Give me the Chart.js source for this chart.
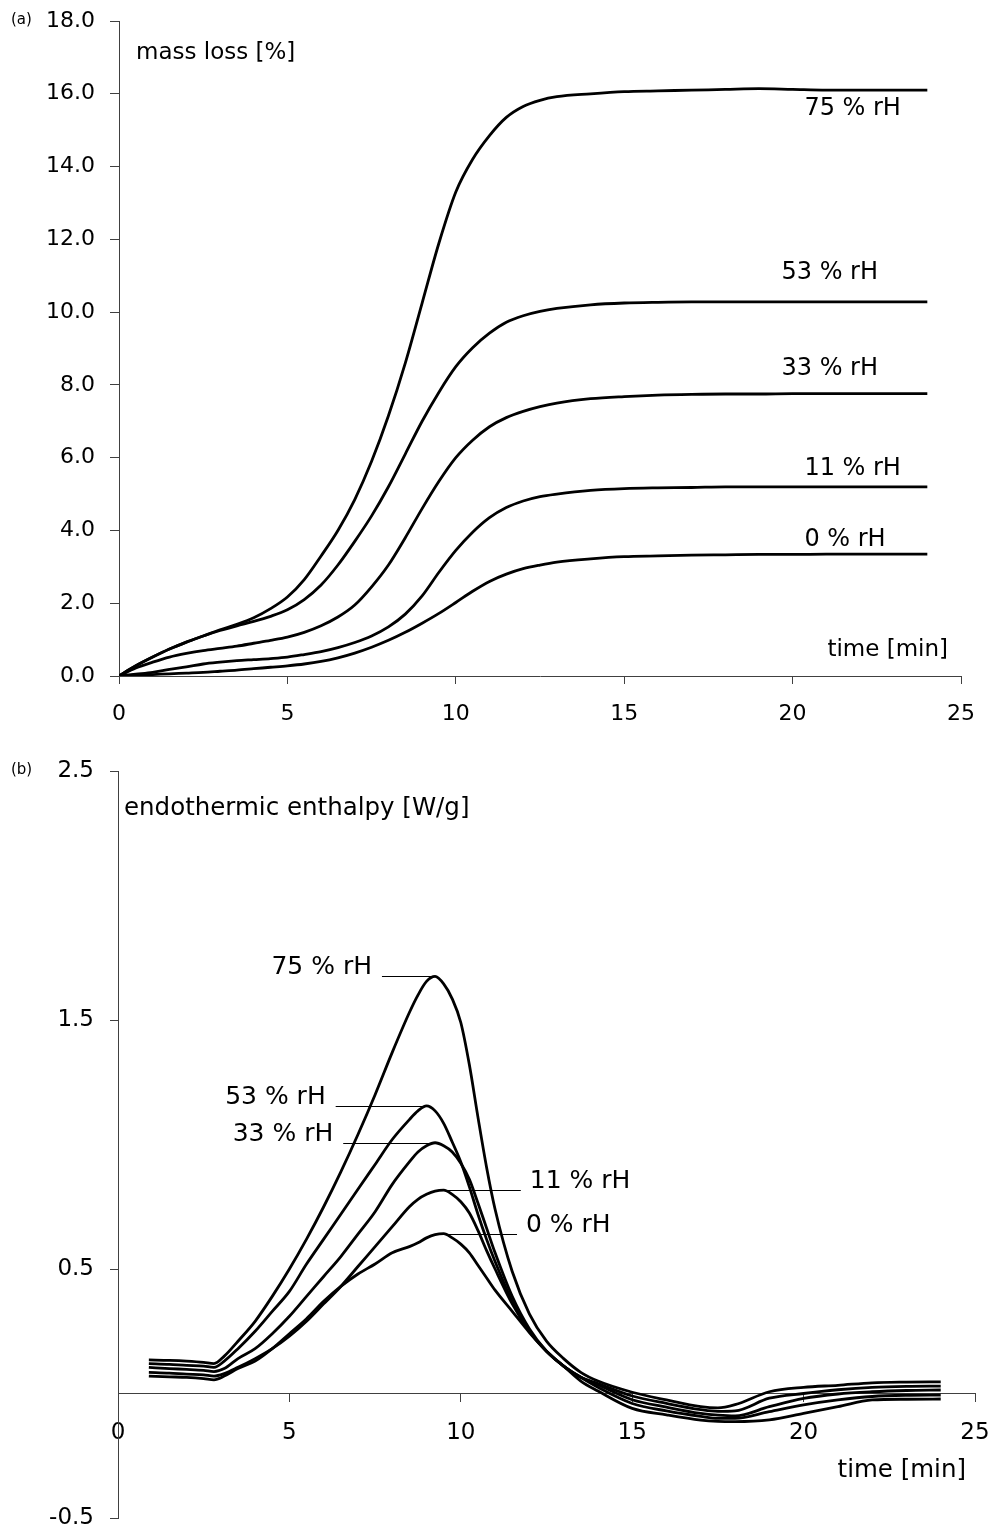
<!DOCTYPE html>
<html>
<head>
<meta charset="utf-8">
<script src="https://cdn.jsdelivr.net/npm/chart.js@4.4.0/dist/chart.umd.min.js"></script>
<style>
	html, body { margin: 0; padding: 0; background: #fff; }
	#wrap { position: relative; width: 997px; height: 1535px; }
	canvas { position: absolute; left: 0; }
</style>
</head>
<body>
<div id="wrap">
	<canvas id="massLoss" width="997" height="740" style="top:0;width:997px;height:740px"></canvas>
	<canvas id="enthalpy" width="997" height="795" style="top:740px;width:997px;height:795px"></canvas>
</div>
<script>
const series = ["75 % rH", "53 % rH", "33 % rH", "11 % rH", "0 % rH"];

// (a) mass loss [%] vs time [min]
const massTime = [0, 0.5, 1, 1.5, 2, 2.5, 3, 3.5, 4, 4.5, 5, 5.5, 6, 6.5, 7, 7.5, 8, 8.5, 9, 9.5, 10, 10.5, 11, 11.5, 12, 12.5, 13, 14, 15, 16, 17, 18, 19, 20, 21, 22, 23, 24];
const mass75 = [0, 0.28, 0.52, 0.74, 0.93, 1.1, 1.27, 1.42, 1.6, 1.85, 2.17, 2.65, 3.3, 4.0, 4.85, 5.9, 7.15, 8.6, 10.25, 11.9, 13.3, 14.2, 14.85, 15.35, 15.65, 15.82, 15.92, 16.0, 16.06, 16.08, 16.1, 16.12, 16.14, 16.12, 16.1, 16.1, 16.1, 16.1];
const mass53 = [0, 0.28, 0.52, 0.74, 0.93, 1.1, 1.25, 1.38, 1.5, 1.64, 1.82, 2.1, 2.5, 3.05, 3.7, 4.4, 5.2, 6.1, 7.0, 7.8, 8.5, 9.02, 9.42, 9.72, 9.9, 10.02, 10.1, 10.2, 10.25, 10.27, 10.28, 10.28, 10.28, 10.28, 10.28, 10.28, 10.28, 10.28];
const mass33 = [0, 0.22, 0.38, 0.52, 0.62, 0.7, 0.76, 0.82, 0.9, 0.98, 1.07, 1.2, 1.38, 1.62, 1.95, 2.45, 3.05, 3.8, 4.6, 5.35, 6.0, 6.48, 6.85, 7.1, 7.27, 7.4, 7.5, 7.62, 7.68, 7.72, 7.74, 7.75, 7.75, 7.76, 7.76, 7.76, 7.76, 7.76];
const mass11 = [0, 0.05, 0.1, 0.18, 0.25, 0.33, 0.38, 0.42, 0.45, 0.48, 0.52, 0.59, 0.67, 0.78, 0.92, 1.1, 1.35, 1.7, 2.2, 2.85, 3.45, 3.95, 4.35, 4.63, 4.81, 4.93, 5.0, 5.1, 5.15, 5.17, 5.18, 5.2, 5.2, 5.2, 5.2, 5.2, 5.2, 5.2];
const mass0 = [0, 0.02, 0.04, 0.06, 0.08, 0.1, 0.13, 0.16, 0.2, 0.24, 0.28, 0.33, 0.4, 0.5, 0.63, 0.79, 0.98, 1.2, 1.45, 1.72, 2.02, 2.33, 2.6, 2.8, 2.95, 3.05, 3.13, 3.22, 3.28, 3.3, 3.32, 3.33, 3.34, 3.34, 3.35, 3.35, 3.35, 3.35];
const massTicksY = { min: 0, max: 18, step: 2 };

// (b) endothermic enthalpy [W/g] vs time [min]
const heatTime = [0.9, 1.5, 2, 2.5, 2.8, 3.1, 3.5, 4, 4.5, 5, 5.5, 6, 6.5, 7, 7.5, 8, 8.5, 8.75, 9, 9.25, 9.5, 9.75, 10, 10.25, 10.5, 10.75, 11, 11.5, 12, 12.5, 13, 13.5, 14, 15, 16, 17, 17.5, 18, 19, 20, 21, 22, 23, 24];
const heat75 = [0.135, 0.133, 0.13, 0.125, 0.12, 0.15, 0.21, 0.29, 0.39, 0.5, 0.62, 0.75, 0.89, 1.04, 1.2, 1.37, 1.53, 1.6, 1.655, 1.675, 1.645, 1.585, 1.49, 1.32, 1.11, 0.91, 0.74, 0.49, 0.32, 0.21, 0.14, 0.085, 0.05, 0.005, -0.026, -0.053, -0.058, -0.045, 0.007, 0.025, 0.033, 0.043, 0.046, 0.047];
const heat53 = [0.12, 0.117, 0.113, 0.11, 0.105, 0.13, 0.18, 0.25, 0.33, 0.41, 0.52, 0.62, 0.72, 0.82, 0.92, 1.02, 1.1, 1.135, 1.155, 1.135, 1.085, 1.01, 0.93, 0.83, 0.72, 0.62, 0.53, 0.37, 0.25, 0.17, 0.11, 0.065, 0.04, -0.01, -0.04, -0.065, -0.072, -0.07, -0.019, 0.0, 0.015, 0.025, 0.029, 0.03];
const heat33 = [0.105, 0.1, 0.097, 0.093, 0.088, 0.1, 0.14, 0.18, 0.24, 0.31, 0.39, 0.47, 0.55, 0.64, 0.73, 0.84, 0.93, 0.97, 0.995, 1.007, 0.995, 0.97, 0.925, 0.86, 0.765, 0.665, 0.565, 0.39, 0.26, 0.17, 0.11, 0.065, 0.035, -0.025, -0.055, -0.08, -0.087, -0.09, -0.053, -0.02, -0.002, 0.007, 0.012, 0.014];
const heat11 = [0.085, 0.082, 0.078, 0.075, 0.07, 0.08, 0.105, 0.14, 0.18, 0.23, 0.29, 0.36, 0.43, 0.51, 0.59, 0.67, 0.75, 0.78, 0.8, 0.813, 0.817, 0.8, 0.77, 0.725, 0.655, 0.575, 0.5, 0.36, 0.25, 0.17, 0.11, 0.065, 0.025, -0.04, -0.07, -0.092, -0.1, -0.1, -0.073, -0.046, -0.026, -0.012, -0.007, -0.006];
const heat0 = [0.07, 0.067, 0.065, 0.06, 0.055, 0.07, 0.1, 0.13, 0.18, 0.24, 0.3, 0.37, 0.43, 0.48, 0.52, 0.565, 0.59, 0.605, 0.625, 0.638, 0.642, 0.625, 0.6, 0.565, 0.515, 0.465, 0.415, 0.33, 0.245, 0.17, 0.11, 0.05, 0.01, -0.06, -0.086, -0.107, -0.112, -0.113, -0.106, -0.08, -0.053, -0.026, -0.023, -0.022];
const heatTicksY = { min: -0.5, max: 2.5, step: 1 };

const timeTicks = { min: 0, max: 25, step: 5 };

// where the rH labels sit, in data units
const massLabelAt = [[20.35, 15.42], [19.67, 10.91], [19.67, 8.27], [20.35, 5.52], [20.35, 3.57]];
// leader lines in (b): time at the far end of each line
const heatLeaderEnd = [7.7, 6.35, 6.57, 11.75, 11.64];

const FONT = "DejaVu Sans";
const AXIS = "#404040";

const toDatasets = (time, columns) =>
	columns.map((col, i) => ({
		label: series[i],
		data: time.map((t, j) => ({ x: t, y: col[j] })),
	}));

// labels may spill past the plot edges, like in the paper figure
const noPadding = s => {
	s.paddingLeft = s.paddingRight = s.paddingTop = s.paddingBottom = 0;
};

const baseOptions = ({ padding, tickFont, xPadding, yPadding, yTickLen, yWidth, xHeight, xPosition, yTicks }) => ({
	responsive: false,
	animation: false,
	events: [],
	layout: { padding },
	plugins: { legend: { display: false }, tooltip: { enabled: false } },
	elements: {
		point: { radius: 0 },
		line: { borderColor: "#000", borderWidth: 2.8, cubicInterpolationMode: "monotone", fill: false },
	},
	scales: {
		x: {
			type: "linear",
			position: xPosition,
			min: timeTicks.min,
			max: timeTicks.max,
			grid: { drawOnChartArea: false, drawTicks: true, tickLength: 8, tickColor: AXIS, color: AXIS },
			border: { color: AXIS, width: 1 },
			ticks: {
				stepSize: timeTicks.step,
				autoSkip: false,
				maxRotation: 0,
				padding: xPadding,
				color: "#000",
				font: { family: FONT, size: tickFont },
				callback: v => String(v),
			},
			afterFit: s => {
				noPadding(s);
				if (xHeight) s.height = xHeight;
			},
		},
		y: {
			type: "linear",
			min: yTicks.min,
			max: yTicks.max,
			grid: { drawOnChartArea: false, drawTicks: true, tickLength: yTickLen, tickColor: AXIS, color: AXIS },
			border: { color: AXIS, width: 1 },
			ticks: {
				stepSize: yTicks.step,
				autoSkip: false,
				padding: yPadding,
				color: "#000",
				font: { family: FONT, size: tickFont },
				callback: v => Number(v).toFixed(1),
			},
			afterFit: s => {
				noPadding(s);
				s.width = yWidth;
			},
		},
	},
});

const textLayer = draw => ({
	id: "textLayer",
	afterDraw(chart) {
		const { ctx } = chart;
		ctx.save();
		ctx.fillStyle = "#000";
		ctx.strokeStyle = "#000";
		draw(chart, ctx);
		ctx.restore();
	},
});

// (a)
new Chart(document.getElementById("massLoss"), {
	type: "line",
	data: { datasets: toDatasets(massTime, [mass75, mass53, mass33, mass11, mass0]) },
	options: baseOptions({
		padding: { left: 0, right: 36, top: 21, bottom: 0 },
		tickFont: 22,
		xPadding: 17,
		yPadding: 15,
		yTickLen: 9,
		yWidth: 119,
		xHeight: 64,
		xPosition: "bottom",
		yTicks: massTicksY,
	}),
	plugins: [
		textLayer((chart, ctx) => {
			const { chartArea: a, scales: { x, y } } = chart;
			ctx.font = `15px '${FONT}'`;
			ctx.textAlign = "left";
			ctx.fillText("(a)", 11, 24);
			ctx.font = `23px '${FONT}'`;
			ctx.fillText("mass loss [%]", a.left + 17, a.top + 38);
			ctx.textAlign = "right";
			ctx.fillText("time [min]", a.right - 13, a.bottom - 20);
			ctx.font = `24px '${FONT}'`;
			ctx.textAlign = "left";
			massLabelAt.forEach(([t, v], i) => {
				ctx.fillText(series[i], x.getPixelForValue(t), y.getPixelForValue(v));
			});
		}),
	],
});

// (b)
const heatColumns = [heat75, heat53, heat33, heat11, heat0];
new Chart(document.getElementById("enthalpy"), {
	type: "line",
	data: { datasets: toDatasets(heatTime, heatColumns) },
	options: baseOptions({
		padding: { left: 0, right: 22, top: 31, bottom: 17 },
		tickFont: 23,
		xPadding: 18,
		yPadding: 16,
		yTickLen: 8,
		yWidth: 118,
		xHeight: 0,
		xPosition: { y: 0 },
		yTicks: heatTicksY,
	}),
	plugins: [
		textLayer((chart, ctx) => {
			const { chartArea: a, scales: { x, y } } = chart;
			ctx.font = `15px '${FONT}'`;
			ctx.textAlign = "left";
			ctx.fillText("(b)", 11, 34);
			ctx.font = `24.5px '${FONT}'`;
			ctx.fillText("endothermic enthalpy [W/g]", a.left + 6, a.top + 44);
			ctx.textAlign = "right";
			ctx.fillText("time [min]", a.right - 9, a.bottom - 41);

			ctx.font = `25px '${FONT}'`;
			ctx.lineWidth = 1;
			heatColumns.forEach((col, i) => {
				// leader line runs level from the peak of the curve
				let k = 0;
				col.forEach((v, j) => { if (v > col[k]) k = j; });
				const px = x.getPixelForValue(heatTime[k]);
				const py = Math.round(y.getPixelForValue(col[k])) + 0.5;
				const ex = x.getPixelForValue(heatLeaderEnd[i]);
				ctx.beginPath();
				ctx.moveTo(px, py);
				ctx.lineTo(ex, py);
				ctx.stroke();
				if (ex < px) {
					ctx.textAlign = "right";
					ctx.fillText(series[i], ex - 10, py - 3);
				} else {
					ctx.textAlign = "left";
					ctx.fillText(series[i], ex + 9, py - 3);
				}
			});
		}),
	],
});
</script>
</body>
</html>
